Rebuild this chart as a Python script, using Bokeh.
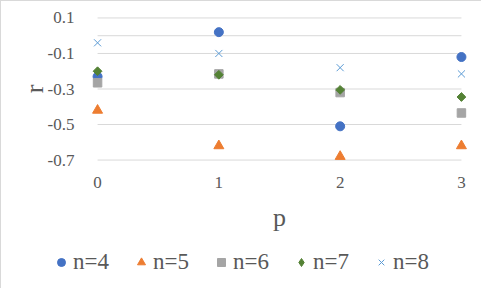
from bokeh.plotting import figure
from bokeh.layouts import column
from bokeh.models import Range1d, FixedTicker, Legend, LegendItem, PrintfTickFormatter
from bokeh.embed import file_html
from bokeh.resources import INLINE
import math

# ---- data ----
p_vals = [0, 1, 2, 3]
r_n4 = [-0.23, 0.02, -0.51, -0.12]
r_n5 = [-0.42, -0.62, -0.68, -0.62]
r_n6 = [-0.265, -0.215, -0.32, -0.435]
r_n7 = [-0.20, -0.22, -0.305, -0.345]
r_n8 = [-0.04, -0.10, -0.18, -0.215]
series_names = ["n=4", "n=5", "n=6", "n=7", "n=8"]
y_ticks = [0.1, -0.1, -0.3, -0.5, -0.7]
x_ticks = [0, 1, 2, 3]

FONT = "Liberation Serif"
TXT = "#595959"
GRID = "#d9d9d9"

series = [
    (r_n4, dict(marker="circle", size=9, color="#4472C4")),
    (r_n5, dict(marker="triangle", size=10, color="#ED7D31")),
    (r_n6, dict(marker="square", size=8.5, color="#A5A5A5")),
    (r_n7, dict(marker="square", size=6.2, angle=math.pi / 4, color="#548235")),
    (r_n8, dict(marker="x", size=10, line_color="#5B9BD5", line_width=1)),
]
legend_marks = [
    dict(marker="circle", color="#4472C4"),
    dict(marker="triangle", color="#ED7D31"),
    dict(marker="square", color="#A5A5A5"),
    dict(marker="diamond", color="#548235"),
    dict(marker="x", line_color="#5B9BD5", line_width=1),
]

p = figure(width=481, height=242, output_backend="svg", toolbar_location=None,
           x_range=Range1d(-0.05, 3.05), y_range=Range1d(-0.725, 0.125),
           min_border_left=90, min_border_right=15, min_border_top=12, min_border_bottom=79,
           x_axis_label="p", y_axis_label="r")
p.frame_align = False
p.outline_line_color = None
p.xgrid.visible = False
p.ygrid.visible = False

# gridlines (span the category extent only) and the zero axis line
g_y = y_ticks + [0]
p.segment(x0=[min(p_vals)] * len(g_y), x1=[max(p_vals)] * len(g_y), y0=g_y, y1=g_y,
          line_color=GRID, line_width=1)

for ax in (p.xaxis[0], p.yaxis[0]):
    ax.axis_line_color = None
    ax.major_tick_line_color = None
    ax.minor_tick_line_color = None
    ax.major_label_text_font = FONT
    ax.major_label_text_font_size = "17px"
    ax.major_label_text_color = TXT
    ax.axis_label_text_font = FONT
    ax.axis_label_text_font_size = "26px"
    ax.axis_label_text_font_style = "normal"
    ax.axis_label_text_color = TXT

p.xaxis.ticker = FixedTicker(ticks=x_ticks)
p.yaxis.ticker = FixedTicker(ticks=y_ticks)
p.yaxis.formatter = PrintfTickFormatter(format="%.1f")
p.xaxis.major_label_standoff = 6
p.xaxis.axis_label_standoff = 12
p.yaxis.major_label_standoff = 11
p.yaxis.axis_label_standoff = -4

for ys, kw in series:
    p.scatter(p_vals, ys, **kw)

# ---- legend strip below the chart ----
lf = figure(width=481, height=46, output_backend="svg", toolbar_location=None,
            x_axis_location=None, y_axis_location=None,
            min_border=0, min_border_left=0, min_border_right=0,
            min_border_top=0, min_border_bottom=0,
            x_range=Range1d(0, 1), y_range=Range1d(0, 1))
lf.frame_align = False
lf.grid.visible = False
lf.outline_line_color = None
items = []
for name, (ys, _), kw in zip(series_names, series, legend_marks):
    rr = lf.scatter(p_vals, ys, visible=False, **kw)
    items.append(LegendItem(label=name, renderers=[rr]))

legend = Legend(items=items, orientation="horizontal", location=(50, 14),
                label_text_font=FONT, label_text_font_size="23px", label_text_color=TXT,
                label_standoff=2, spacing=22, padding=0, margin=0,
                glyph_width=20, glyph_height=20,
                border_line_color=None, background_fill_alpha=0)
lf.add_layout(legend, "center")

page = column(p, lf, spacing=0,
              styles={"border": "1px solid #d9d9d9", "box-sizing": "border-box"})
open("out.html", "w").write(file_html(page, INLINE))
